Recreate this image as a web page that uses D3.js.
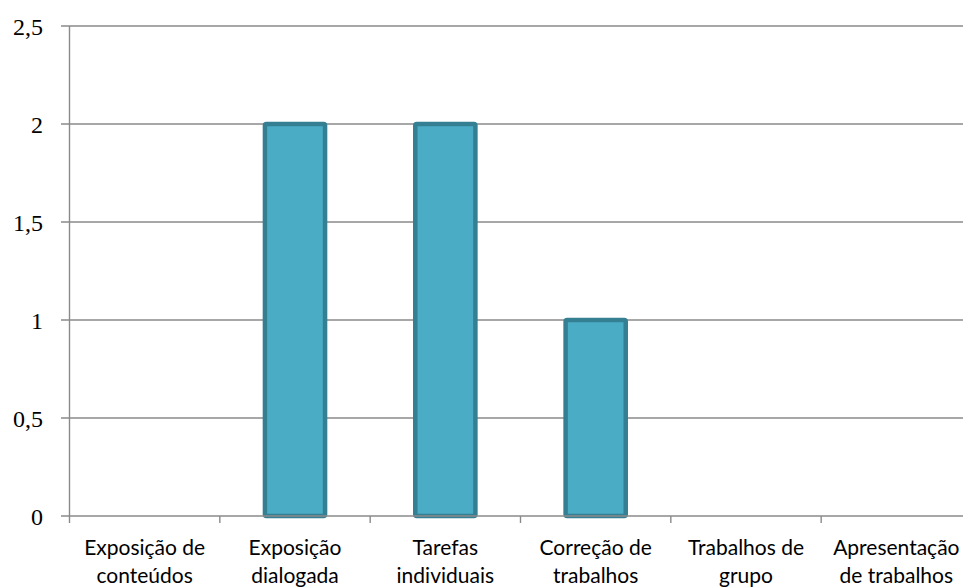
<!DOCTYPE html>
<html>
<head>
<meta charset="utf-8">
<script src="https://cdn.jsdelivr.net/npm/d3@7"></script>
<style>
  body { margin: 0; background: #fff; }
</style>
</head>
<body>
<svg width="963" height="588"></svg>
<script>
const svg = d3.select("svg");

// data
const categories = [
    "Exposição de conteúdos",
    "Exposição dialogada",
    "Tarefas individuais",
    "Correção de trabalhos",
    "Trabalhos de grupo",
    "Apresentação de trabalhos"
];
const catLines = [
    ["Exposição de", "conteúdos"],
    ["Exposição", "dialogada"],
    ["Tarefas", "individuais"],
    ["Correção de", "trabalhos"],
    ["Trabalhos de", "grupo"],
    ["Apresentação", "de trabalhos"]
];
const values = [0, 2, 2, 1, 0, 0];
const yTicks = [0, 0.5, 1, 1.5, 2, 2.5];

//====== Scales ======

const x = d3.scaleBand()
    .domain(categories)
    .range([69.5, 971.5])
    .paddingInner(0.6)
    .paddingOuter(0.3);

const y = d3.scaleLinear()
    .domain([0, 2.5])
    .range([516, 26]);

const fmt = v => String(v).replace(".", ",");

//====== Grid ======

svg.append("g")
    .selectAll("line")
    .data(yTicks.filter(d => d > 0))
    .enter().append("line")
        .attr("x1", 61)
        .attr("x2", 963)
        .attr("y1", d => y(d))
        .attr("y2", d => y(d))
        .attr("stroke", "#8a8a8a")
        .attr("stroke-width", 1.4);

//====== Bars ======

svg.append("g")
    .selectAll("rect")
    .data(values.map((v, i) => ({cat: categories[i], v: v})).filter(d => d.v > 0))
    .enter().append("rect")
        .attr("x", d => x(d.cat))
        .attr("y", d => y(d.v))
        .attr("width", x.bandwidth())
        .attr("height", d => y(0) - y(d.v))
        .attr("rx", 1.5)
        .attr("fill", "#4bacc6")
        .attr("stroke", "#357f93")
        .attr("stroke-width", 4.5);

//====== Axes ======

const axisG = svg.append("g");

// y axis line + ticks
axisG.append("line")
    .attr("x1", 69.5).attr("x2", 69.5)
    .attr("y1", y(2.5)).attr("y2", 523)
    .attr("stroke", "#8a8a8a")
    .attr("stroke-width", 1.4);

axisG.append("line")
    .attr("x1", 61).attr("x2", 963)
    .attr("y1", y(0)).attr("y2", y(0))
    .attr("stroke", "#8a8a8a")
    .attr("stroke-width", 1.4);

// x ticks at band boundaries
const step = x.step();
const xStart = x.range()[0];
axisG.selectAll(".xt")
    .data(d3.range(1, categories.length))
    .enter().append("line")
        .attr("x1", i => xStart + i * step)
        .attr("x2", i => xStart + i * step)
        .attr("y1", y(0))
        .attr("y2", 523)
        .attr("stroke", "#8a8a8a")
        .attr("stroke-width", 1.4);

// y labels
axisG.selectAll(".yl")
    .data(yTicks)
    .enter().append("text")
        .attr("x", 43)
        .attr("y", d => y(d))
        .attr("dy", "0.36em")
        .attr("text-anchor", "end")
        .attr("font-family", "'Liberation Serif', serif")
        .attr("font-size", 24)
        .attr("fill", "#000")
        .text(fmt);

// x labels
const xl = axisG.selectAll(".xl")
    .data(categories)
    .enter().append("text")
        .attr("text-anchor", "middle")
        .attr("font-family", "Lato, sans-serif")
        .attr("font-size", 21)
        .attr("fill", "#000");

xl.selectAll("tspan")
    .data((d, i) => catLines[i].map(t => ({t: t, c: d})))
    .enter().append("tspan")
        .attr("x", d => x(d.c) + x.bandwidth() / 2)
        .attr("y", (d, j) => 555 + j * 28)
        .text(d => d.t);
</script>
</body>
</html>
